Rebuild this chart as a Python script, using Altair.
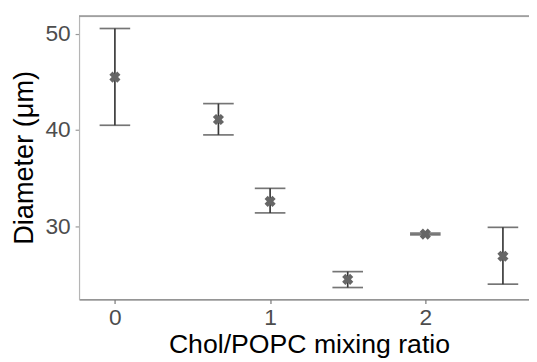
import altair as alt
import pandas as pd

# Data
ratio = [0, 0.667, 1, 1.5, 2, 2.5]
diameter = [45.5, 41.1, 32.6, 24.5, 29.2, 26.9]
lower = [40.5, 39.5, 31.4, 23.65, 29.12, 24.0]
upper = [50.55, 42.75, 33.95, 25.3, 29.3, 29.9]

df = pd.DataFrame({"ratio": ratio, "diameter": diameter, "lower": lower, "upper": upper})

W = 456
H = 287
XDOM = [-0.231, 2.668]
YDOM = [22.41, 51.82]

xs = alt.Scale(domain=XDOM, nice=False, zero=False)
ys = alt.Scale(domain=YDOM, nice=False, zero=False)

x_axis = alt.Axis(
    values=[0, 1, 2], format="d", grid=False,
    domainColor="#777777", domainWidth=1.2,
    tickColor="#777777", tickSize=4, tickWidth=1.2,
    labelFontSize=23, labelColor="#4d4d4d", labelPadding=3.5,
    labelFont="Liberation Sans",
    title="Chol/POPC mixing ratio", titleFontSize=27, titleColor="#000000",
    titleFont="Liberation Sans", titleFontWeight="normal",
    titleX=233, titleY=54, titleBaseline="alphabetic", titleAnchor="start", titleAlign="center",
)
y_axis = alt.Axis(
    values=[30, 40, 50], format="d", grid=False,
    domainColor="#b5b5b5", domainWidth=1.2,
    tickColor="#999999", tickSize=4, tickWidth=1.2,
    labelFontSize=23, labelColor="#4d4d4d", labelPadding=5,
    labelFont="Liberation Sans",
    title="Diameter (μm)", titleFontSize=27.5, titleColor="#000000",
    titleFont="Liberation Sans", titleFontWeight="normal",
    titleX=-47, titleY=143, titleBaseline="alphabetic", titleAngle=-90, titleAlign="center",
)

base = alt.Chart(df)

bars = base.mark_rule(color="#3a3a3a", strokeWidth=1.7).encode(
    x=alt.X("ratio:Q", scale=xs, axis=x_axis),
    y=alt.Y("lower:Q", scale=ys, axis=y_axis),
    y2="upper:Q",
)
cap_lo = base.mark_tick(color="#3a3a3a", orient="horizontal", size=31, thickness=1.7).encode(
    x=alt.X("ratio:Q", scale=xs),
    y=alt.Y("lower:Q", scale=ys),
)
cap_hi = base.mark_tick(color="#3a3a3a", orient="horizontal", size=31, thickness=1.7).encode(
    x=alt.X("ratio:Q", scale=xs),
    y=alt.Y("upper:Q", scale=ys),
)
pts = base.mark_point(shape="cross", angle=45, filled=True, color="#666666", size=130, opacity=1).encode(
    x=alt.X("ratio:Q", scale=xs),
    y=alt.Y("diameter:Q", scale=ys),
)
top_line = alt.Chart(df).mark_rule(color="#a0a0a0", strokeWidth=1.2).encode(
    x=alt.value(0), x2=alt.value(W), y=alt.value(0)
)

chart = alt.layer(top_line, bars, cap_lo, cap_hi, pts).properties(
    width=W, height=H,
    autosize=alt.AutoSizeParams(type="none"),
    padding={"left": 72, "top": 6, "right": 0, "bottom": 61},
).configure_view(stroke=None).configure(background="white")

chart.save("out.html", embed_options={"renderer": "svg", "actions": False})
